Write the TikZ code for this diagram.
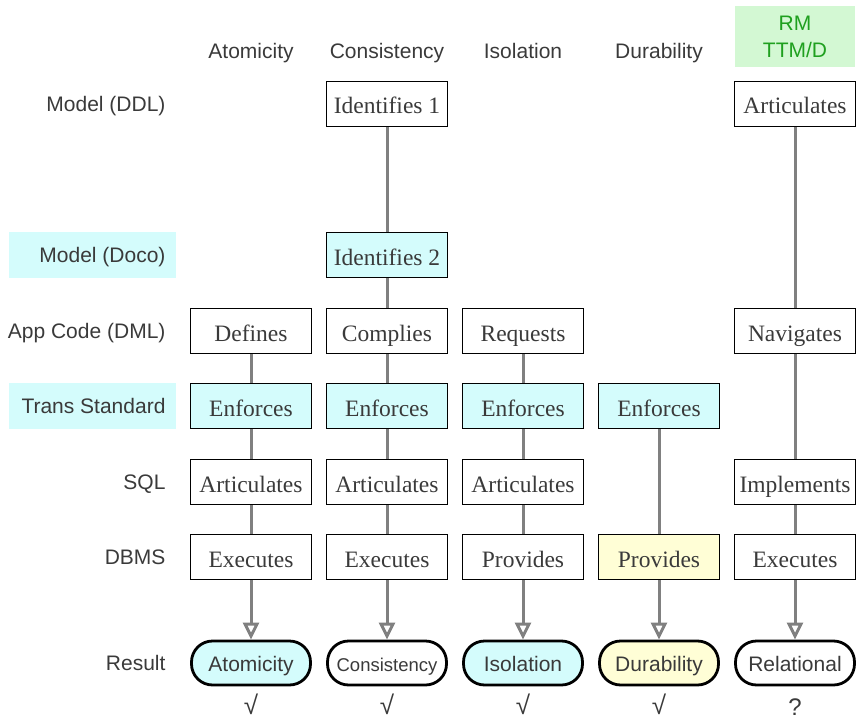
\documentclass[tikz,border=0pt]{standalone}
\usepackage{fontspec}
\setmainfont{Liberation Serif}
\setsansfont{Liberation Sans}
\usetikzlibrary{arrows.meta}
\definecolor{txt}{HTML}{3A3A3A}
\definecolor{cyanfill}{HTML}{D4FCFC}
\definecolor{yelfill}{HTML}{FFFED6}
\definecolor{greenfill}{HTML}{D3F8D3}
\definecolor{greentxt}{HTML}{1FA01F}
\definecolor{conn}{HTML}{808080}
\tikzset{
 box/.style={draw=black, line width=1.5pt, fill=white, minimum width=121pt, minimum height=45pt, inner sep=0pt, text height=20pt, text depth=0pt, text=txt, font=\fontsize{23.5}{27}\selectfont},
 cbox/.style={box, fill=cyanfill},
 ybox/.style={box, fill=yelfill},
 res/.style={draw=black, line width=2.8pt, rounded corners=21pt, minimum width=119pt, minimum height=44pt, inner sep=0pt, text height=16pt, text depth=0pt, text=txt, font=\sffamily\fontsize{21}{24}\selectfont, fill=white},
 lab/.style={anchor=east, text=txt, text height=15pt, text depth=0pt, font=\sffamily\fontsize{21}{24}\selectfont},
 hdr/.style={text=txt, text height=15pt, text depth=0pt, font=\sffamily\fontsize{21}{24}\selectfont},
 chk/.style={text=txt, inner sep=0pt, anchor=south, font=\sffamily\fontsize{26}{28}\selectfont},
 link/.style={draw=conn, line width=3pt},
 arr/.style={link, -{Triangle[length=17pt,width=16pt,fill=white]}},
}
\begin{document}
\begin{tikzpicture}[x=1pt,y=-1pt]
\useasboundingbox (0,0) rectangle (856,722);
% header
\node[hdr] (h1) at (251,51) {Atomicity};
\node[hdr] (h2) at (387,51) {Consistency};
\node[hdr] (h3) at (523,51) {Isolation};
\node[hdr] (h4) at (659,51) {Durability};
\node[fill=greenfill, minimum width=120pt, minimum height=61pt, inner sep=0pt, text=greentxt, align=center, font=\sffamily\fontsize{21}{27}\selectfont] (h5) at (795,36.5) {RM\\TTM/D};
% row labels
\node[fill=cyanfill, minimum width=167pt, minimum height=46pt, inner sep=0pt] (bgdoco) at (92.5,255) {};
\node[fill=cyanfill, minimum width=167pt, minimum height=46pt, inner sep=0pt] (bgtrans) at (92.5,406) {};
\node[lab] (l1) at (169,104) {Model (DDL)};
\node[lab] (l2) at (169,255) {Model (Doco)};
\node[lab] (l3) at (169,331) {App Code (DML)};
\node[lab] (l4) at (169,406) {Trans Standard};
\node[lab] (l5) at (169,482) {SQL};
\node[lab] (l6) at (169,557) {DBMS};
\node[lab] (l7) at (169,663) {Result};
% column 1
\node[box] (a3) at (251,331) {Defines};
\node[cbox] (a4) at (251,406) {Enforces};
\node[box] (a5) at (251,482) {Articulates};
\node[box] (a6) at (251,557) {Executes};
\node[res, fill=cyanfill] (a7) at (251,663) {Atomicity};
% column 2
\node[box] (b1) at (387,104) {Identifies 1};
\node[cbox] (b2) at (387,255) {Identifies 2};
\node[box] (b3) at (387,331) {Complies};
\node[cbox] (b4) at (387,406) {Enforces};
\node[box] (b5) at (387,482) {Articulates};
\node[box] (b6) at (387,557) {Executes};
\node[res, font=\sffamily\fontsize{18.5}{21}\selectfont] (b7) at (387,663) {Consistency};
% column 3
\node[box] (c3) at (523,331) {Requests};
\node[cbox] (c4) at (523,406) {Enforces};
\node[box] (c5) at (523,482) {Articulates};
\node[box] (c6) at (523,557) {Provides};
\node[res, fill=cyanfill] (c7) at (523,663) {Isolation};
% column 4
\node[cbox] (d4) at (659,406) {Enforces};
\node[ybox] (d6) at (659,557) {Provides};
\node[res, fill=yelfill] (d7) at (659,663) {Durability};
% column 5
\node[box] (e1) at (795,104) {Articulates};
\node[box] (e3) at (795,331) {Navigates};
\node[box] (e5) at (795,482) {Implements};
\node[box] (e6) at (795,557) {Executes};
\node[res] (e7) at (795,663) {Relational};
% connectors
\draw[link] (a3) -- (a4);
\draw[link] (a4) -- (a5);
\draw[link] (a5) -- (a6);
\draw[arr] (a6) -- (a7);
\draw[link] (b1) -- (b2);
\draw[link] (b2) -- (b3);
\draw[link] (b3) -- (b4);
\draw[link] (b4) -- (b5);
\draw[link] (b5) -- (b6);
\draw[arr] (b6) -- (b7);
\draw[link] (c3) -- (c4);
\draw[link] (c4) -- (c5);
\draw[link] (c5) -- (c6);
\draw[arr] (c6) -- (c7);
\draw[link] (d4) -- (d6);
\draw[arr] (d6) -- (d7);
\draw[link] (e1) -- (e3);
\draw[link] (e3) -- (e5);
\draw[link] (e5) -- (e6);
\draw[arr] (e6) -- (e7);
% checks
\node[chk] (k1) at (251,715) {√};
\node[chk] (k2) at (387,715) {√};
\node[chk] (k3) at (523,715) {√};
\node[chk] (k4) at (659,715) {√};
\node[chk, font=\sffamily\fontsize{24}{26}\selectfont] (k5) at (795,716) {?};
\end{tikzpicture}
\end{document}
